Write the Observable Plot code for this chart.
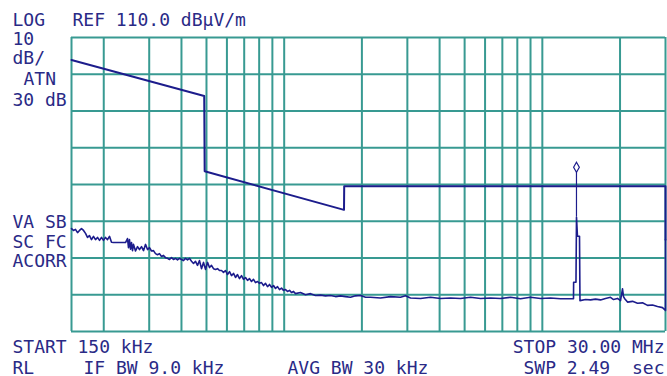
<!DOCTYPE html>
<html><head><meta charset="utf-8">
<script src="https://cdn.jsdelivr.net/npm/d3@7"></script>
<script src="https://cdn.jsdelivr.net/npm/@observablehq/plot@0.6"></script>
<style>html,body{margin:0;padding:0;background:#fff;overflow:hidden}</style>
</head><body><div id="chart"></div>
<script>
// ---- data (frequency in kHz, level in dBµV/m) ----
const gridFreqs = [150, 200, 300, 400, 500, 600, 700, 800, 900, 1000,
  2000, 3000, 4000, 5000, 6000, 7000, 8000, 9000, 10000, 20000, 30000];
const gridLevels = [30, 40, 50, 60, 70, 80, 90, 100, 110];

const limitFreq  = [150, 490, 492, 1705, 1708, 30000, 30000];
const limitLevel = [103.9, 94.1, 73.6, 63.1, 69.5, 69.5, 55.0];

const noiseFreq = [150,152.7,155.4,158.3,161.1,164.0,167.0,170.0,173.0,176.1,179.3,182.5,185.8,189.2,192.6,196.0,199.5,203.1,206.8,210.5,214.3,218.2,226.1,234.3,242.8,247.2,249.4,251.6,253.9,256.2,258.5,260.8,265.5,270.3,275.1,280.1,285.1,290.2,295.5,300.8,306.2,311.7,317.3,323.0,328.8,334.8,340.8,346.9,353.2,359.5,366.0,372.6,379.3,386.1,393.1,400.2,407.4,414.7,422.2,429.8,437.5,445.4,453.4,461.5,469.8,478.3,486.9,495.7,504.6,513.7,522.9,532.3,541.9,551.7,561.6,
571.8,582.0,592.5,603.2,614.0,625.1,636.3,647.8,659.5,671.3,683.4,695.7,708.2,721.0,734.0,747.2,760.6,774.3,788.3,802.4,816.9,831.6,846.6,861.8,877.3,893.1,909.2,925.5,942.2,959.2,976.4,994.0,1011.9,1030.1,1048.7,1067.5,1086.8,1106.3,1156.8,1209.5,1264.7,1322.4,1382.7,1445.7,1511.6,1580.6,1652.6,
1728,1806.7,1889,1975.2,2066,2159.4,2361,2581,2822,2951,3085,3373,3688,4032,4408,4819,5269,5760,6298,6885,7528,8230,8998,9837,10755,11758,12855,13205,13220,13500,13563,13680,13932,13990,14699,15368,16072,16801,17568,18369,18870,19556,20082,20444,20627,20815,21379,22354,23373,24439,25554,26718,27936,29210,30000,30000];
const noiseLevel = [58.0,57.5,57.8,56.9,57.5,58.0,57.5,56.7,55.6,56.1,55.0,55.9,55.0,55.6,54.8,55.6,54.8,55.6,55.0,55.9,54.3,54.2,54.2,54.2,54.2,55.3,52.8,55.0,52.4,54.2,52.0,53.7,51.9,53.1,52.3,53.1,52.0,53.7,52.3,52.8,51.9,52.0,51.2,50.9,51.2,50.4,50.7,50.1,49.9,49.6,50.1,49.6,49.9,49.5,49.9,49.6,49.3,49.9,49.5,49.9,49.1,48.5,49.1,48.0,49.3,47.1,48.8,46.9,48.8,47.4,48.0,47.1,46.9,47.1,46.6,
46.6,46.1,46.6,45.5,46.3,45.2,45.8,44.7,45.5,44.4,45.2,44.2,44.7,43.9,44.4,43.6,44.2,43.3,43.6,43.1,43.3,42.5,43.1,42.2,42.8,42.0,42.5,41.7,42.2,41.4,41.8,41.2,41.4,40.9,41.2,40.6,40.9,40.3,40.6,40.0,40.3,39.8,39.9,39.7,39.8,39.5,39.7,
39.5,39.3,39.7,39.8,39.3,39.3,39.1,39.5,39.3,39.7,39.1,39.0,39.3,39.0,39.1,39.0,39.3,39.0,39.1,39.0,39.3,38.9,39.3,39.0,39.1,38.9,38.9,38.9,43.4,43.4,61.1,55.9,55.9,38.4,38.7,38.6,38.8,38.6,39.0,39.3,38.7,39.0,38.4,41.6,39.5,39.0,38.0,38.2,37.7,37.8,37.1,37.2,36.8,36.5,35.7,55.0];

const markerFreq = [13560];
const markerLevel = [74.7];
const markerPeak = [61.1];

const topLabels = ["LOG", "REF 110.0 dBµV/m", "10", "dB/", "ATN", "30 dB"];
const sideLabels = ["VA SB", "SC FC", "ACORR"];
const bottomLabels = ["START 150 kHz", "STOP 30.00 MHz", "RL", "IF BW 9.0 kHz", "AVG BW 30 kHz", "SWP 2.49", "sec"];

// ---- layout / style ----
const ML = 71, MT = 37;
const gridColor = "#389a92";
const traceColor = "#1c1c8c";
const textColor = "#2a2a86";
const font = "DejaVu Sans Mono";

const limit = limitFreq.map((f, i) => ({f, db: limitLevel[i]}));
const noise = noiseFreq.map((f, i) => ({f, db: noiseLevel[i]}));
const marker = markerFreq.map((f, i) => ({f, db: markerLevel[i], peak: markerPeak[i]}));

function label(text, x, baseline, anchor = "start") {
  return Plot.text([text], {
    frameAnchor: "top-left", text: d => d,
    dx: x - ML, dy: baseline - MT,
    textAnchor: anchor, lineAnchor: "bottom",
    fill: textColor, fontSize: 18, fontFamily: font
  });
}

const pos = [
  [topLabels[0], 12, 25], [topLabels[1], 72, 25], [topLabels[2], 12, 44],
  [topLabels[3], 12, 63], [topLabels[4], 23, 84], [topLabels[5], 12, 105],
  [sideLabels[0], 12, 227], [sideLabels[1], 12, 247], [sideLabels[2], 12, 266],
  [bottomLabels[0], 12, 352], [bottomLabels[1], 664, 352, "end"],
  [bottomLabels[2], 12, 373], [bottomLabels[3], 83, 373], [bottomLabels[4], 287, 373],
  [bottomLabels[5], 523, 373], [bottomLabels[6], 664, 373, "end"]
];

const chart = Plot.plot({
  width: 667, height: 376,
  marginLeft: ML, marginRight: 2, marginTop: MT, marginBottom: 45,
  x: {type: "log", domain: [150, 30000], axis: null},
  y: {domain: [30, 110], axis: null},
  style: {background: "#fff", overflow: "visible"},
  marks: [
    Plot.ruleX(gridFreqs, {stroke: gridColor, strokeWidth: 2}),
    Plot.ruleY(gridLevels, {stroke: gridColor, strokeWidth: 2}),
    Plot.line(noise, {x: "f", y: "db", stroke: traceColor, strokeWidth: 1.6}),
    Plot.line(limit, {x: "f", y: "db", stroke: traceColor, strokeWidth: 2}),
    Plot.ruleX(marker, {x: "f", y1: "peak", y2: d => d.db - 1.3, stroke: traceColor, strokeWidth: 1.2}),
    Plot.dot(marker, {x: "f", y: "db", symbol: "diamond", r: 3, stroke: traceColor, fill: "#fff", strokeWidth: 1.2}),
    ...pos.map(p => label(p[0], p[1], p[2], p[3]))
  ]
});
document.getElementById("chart").appendChild(chart);
</script>
</body></html>
